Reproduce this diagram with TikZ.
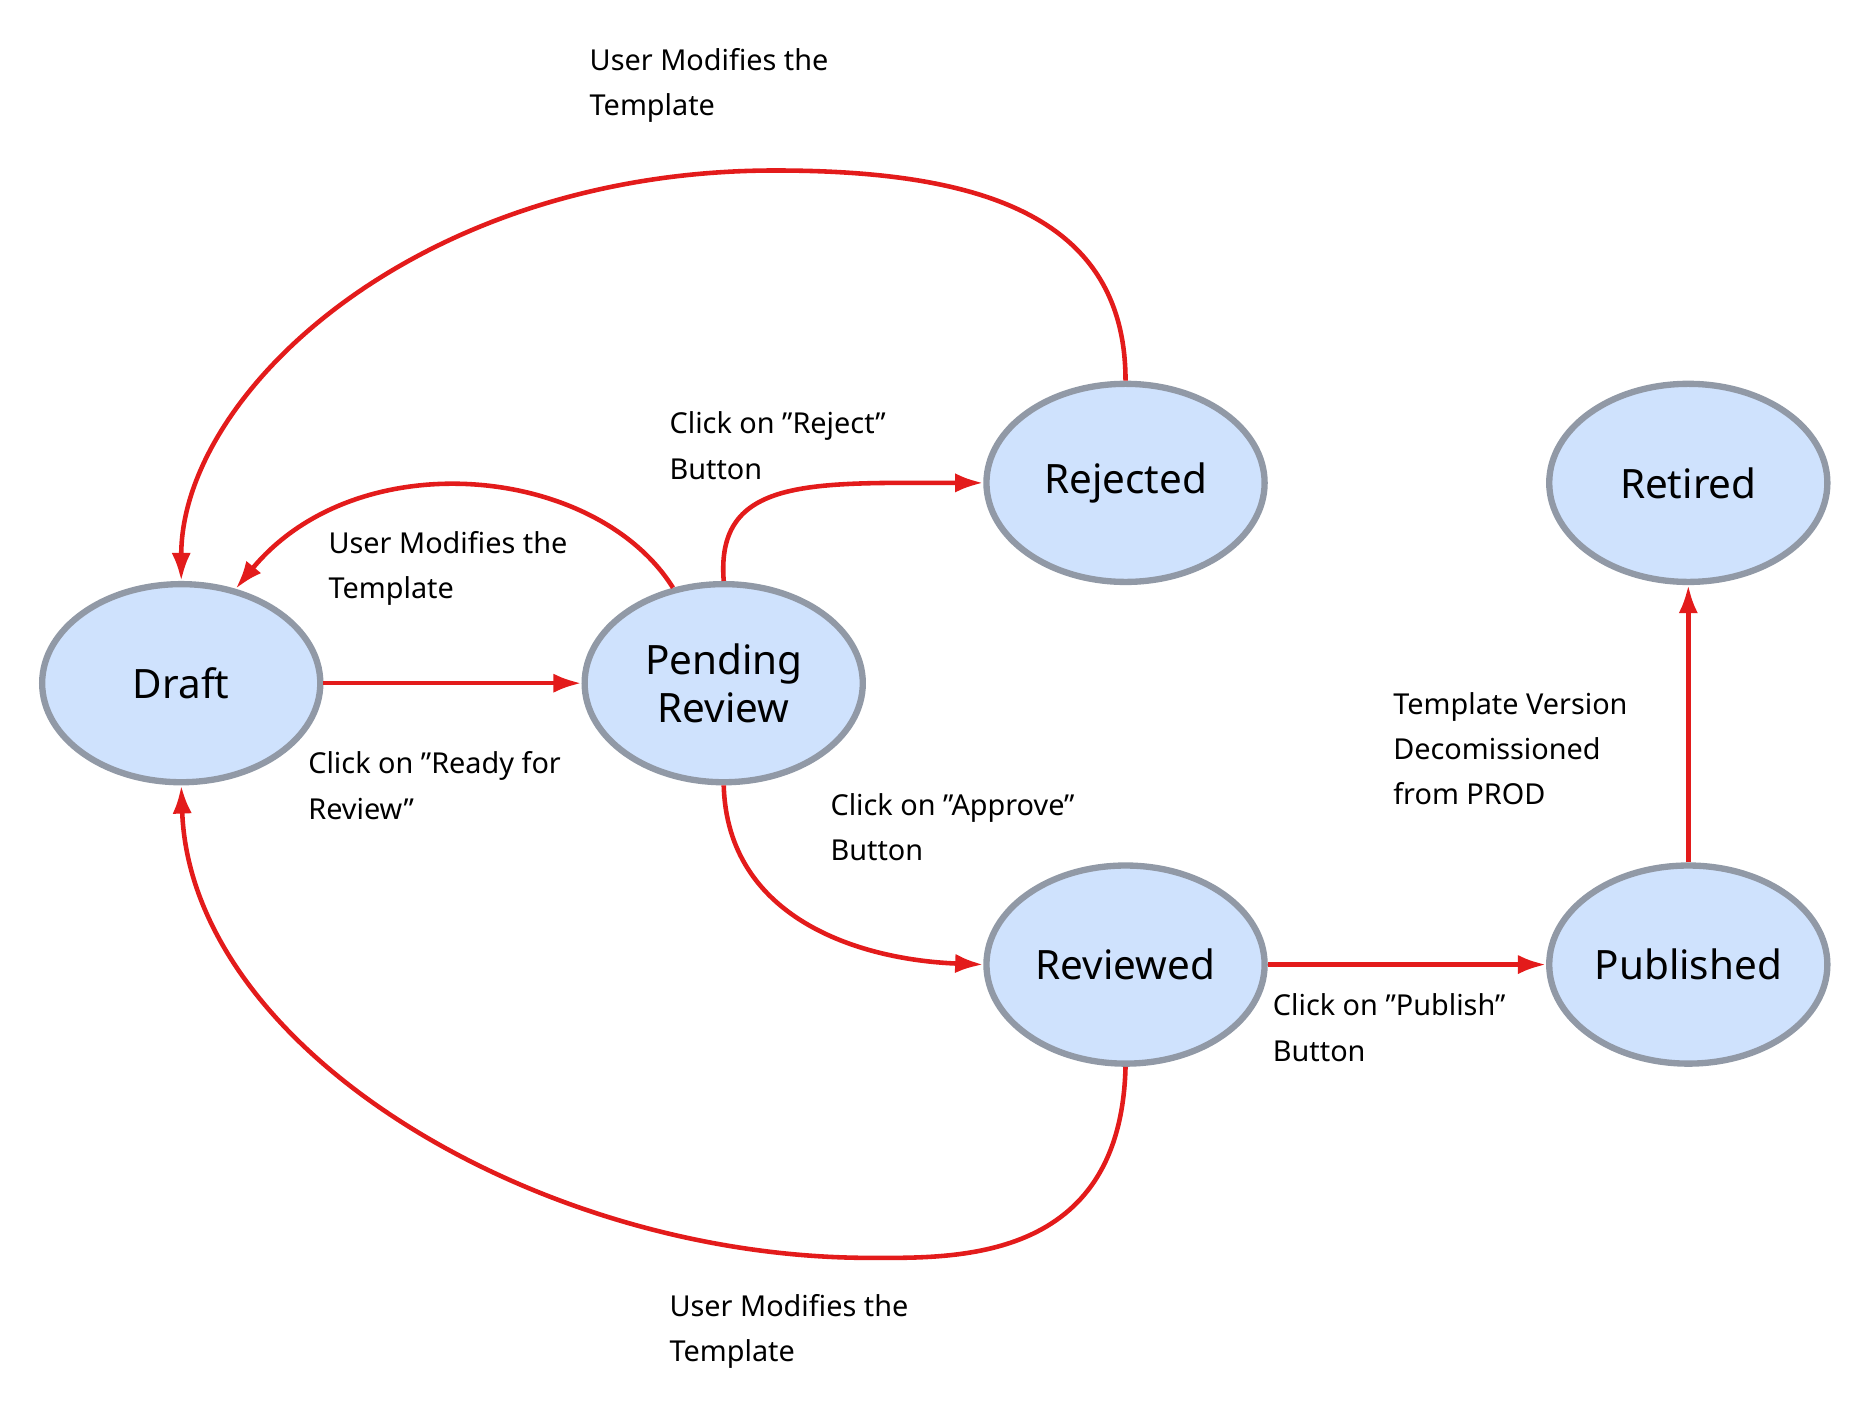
\documentclass[tikz,border=0pt]{standalone}
\usepackage{fontspec}
\setmainfont{Noto Sans}
\usetikzlibrary{arrows.meta,shapes.geometric}
\definecolor{nfill}{HTML}{CFE2FD}
\definecolor{ndraw}{HTML}{9199A6}
\definecolor{ered}{HTML}{E31B1B}
\newcommand{\qq}{\char34\relax}
\begin{document}
\begin{tikzpicture}[x=0.011923cm,y=-0.011923cm,
 st/.style={ellipse,draw=ndraw,fill=nfill,line width=1.8pt,minimum width=2.78cm,minimum height=1.98cm,inner sep=0pt,align=center,font=\fontsize{11.5pt}{13.5pt}\selectfont},
 ed/.style={draw=ered,line width=1.3pt,-{Latex[length=8pt,width=5.5pt]}},
 lb/.style={anchor=north west,align=left,inner sep=0pt,font=\fontsize{8.2pt}{12.9pt}\selectfont}]
\useasboundingbox (0,0) rectangle (1560,1185);
\node[st] (draft) at (152,573) {Draft};
\node[st] (pend) at (607,573) {Pending\\Review};
\node[st] (rej) at (944,405) {Rejected};
\node[st] (ret) at (1416,405) {Retired};
\node[st] (rev) at (944,809) {Reviewed};
\node[st] (pub) at (1416,809) {Published};
\draw[ed] (draft) -- (pend);
\draw[ed] (pend.118) .. controls (500,390) and (300,370) .. (draft.60);
\draw[ed] (pend.north) .. controls (600,400) and (680,405) .. (rej.west);
\draw[ed] (rej.north) .. controls (944,180) and (820,143) .. (650,143) .. controls (350,143) and (152,330) .. (draft.north);
\draw[ed] (pend.south) .. controls (610,770) and (720,805) .. (rev.west);
\draw[ed] (rev.south) .. controls (940,1060) and (800,1055) .. (730,1055) .. controls (450,1055) and (160,880) .. (draft.south);
\draw[ed] (rev) -- (pub);
\draw[ed] (pub) -- (ret);
\node[lb] (l1) at (258,630) {Click on \qq Ready for\\Review\qq};
\node[lb] (l2) at (275,445) {User Modifies the\\Template};
\node[lb] (l3) at (561,345) {Click on \qq Reject\qq\\Button};
\node[lb] (l4) at (494,40) {User Modifies the\\Template};
\node[lb] (l5) at (696,665) {Click on \qq Approve\qq\\Button};
\node[lb] (l6) at (561,1085) {User Modifies the\\Template};
\node[lb] (l7) at (1067,833) {Click on \qq Publish\qq\\Button};
\node[lb] (l8) at (1168,580) {Template Version\\Decomissioned\\from PROD};
\end{tikzpicture}
\end{document}
